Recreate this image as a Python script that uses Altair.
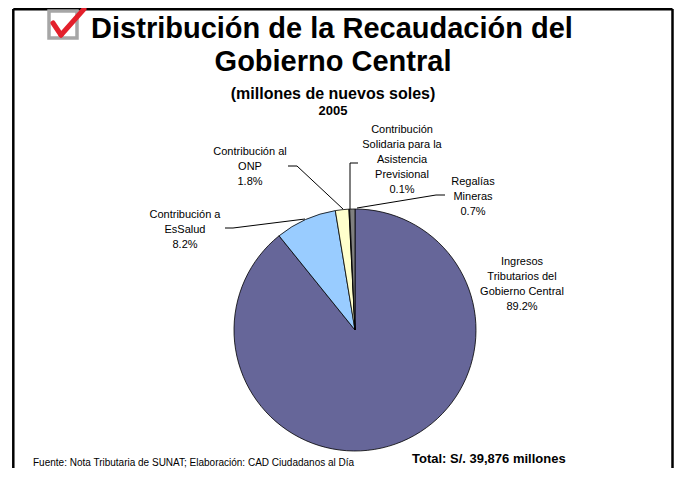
import altair as alt
import pandas as pd

# ---------------- data ----------------
categories = [
    "Ingresos Tributarios del Gobierno Central",
    "Contribución a EsSalud",
    "Contribución al ONP",
    "Contribución Solidaria para la Asistencia Previsional",
    "Regalías Mineras",
]
shares = [89.2, 8.2, 1.8, 0.1, 0.7]
label_texts = [
    "Ingresos\nTributarios del\nGobierno Central\n89.2%",
    "Contribución a\nEsSalud\n8.2%",
    "Contribución al\nONP\n1.8%",
    "Contribución\nSolidaria para la\nAsistencia\nPrevisional\n0.1%",
    "Regalías\nMineras\n0.7%",
]
title_lines = ["Distribución de la Recaudación del", "Gobierno Central"]
subtitle = "(millones de nuevos soles)"
year = "2005"
total_text = "Total: S/. 39,876 millones"
source_text = "Fuente: Nota Tributaria de SUNAT; Elaboración: CAD Ciudadanos al Día"

# ---------------- styles / layout ----------------
slice_colors = ["#666699", "#99CCFF", "#FFFFCC", "#333333", "#808080"]
W, H = 666, 460
OFF = 8  # page margin -> chart coords
CX, CY, R = 355 - OFF, 330 - OFF, 121
FONT = "Liberation Sans"

# label anchor (center x, top y) in page pixels
label_pos = [(522, 256), (185, 209), (250, 146), (402, 124), (473, 176)]
# leader line segments in page pixels
leader_segments = [
    (288, 166, 297, 166), (297, 166, 343, 209),   # ONP
    (358, 163, 350, 163), (350, 163, 350, 209),   # CSAP
    (445, 195, 436, 195), (436, 195, 357, 208),   # Regalías
    (225, 228, 233, 228), (233, 228, 305, 219),   # EsSalud
]

df = pd.DataFrame({"cat": categories, "share": shares, "idx": range(len(categories))})

pie = alt.Chart(df).mark_arc(outerRadius=R, stroke="black", strokeWidth=0.8).encode(
    theta=alt.Theta("share:Q", stack=True),
    order=alt.Order("idx:Q"),
    color=alt.Color("cat:N", scale=alt.Scale(domain=categories, range=slice_colors), legend=None),
    x=alt.value(CX),
    y=alt.value(CY),
)

lab_df = pd.DataFrame({
    "text": label_texts,
    "x": [p[0] - OFF for p in label_pos],
    "y": [p[1] - OFF for p in label_pos],
})
labels = alt.Chart(lab_df).mark_text(
    font=FONT, fontSize=11, align="center", baseline="top", lineBreak="\n", lineHeight=15, color="black"
).encode(
    x=alt.X("x:Q", scale=None), y=alt.Y("y:Q", scale=None), text="text:N"
)

seg_df = pd.DataFrame(leader_segments, columns=["x", "y", "x2", "y2"]) - OFF
leaders = alt.Chart(seg_df).mark_rule(color="black", strokeWidth=1).encode(
    x=alt.X("x:Q", scale=None), y=alt.Y("y:Q", scale=None),
    x2="x2:Q", y2="y2:Q",
)

def txt(s, x, y, size, bold=True, align="center"):
    return alt.Chart(pd.DataFrame({"t": [s]})).mark_text(
        font=FONT, fontSize=size, fontWeight="bold" if bold else "normal",
        align=align, baseline="alphabetic", color="black"
    ).encode(x=alt.value(x - OFF), y=alt.value(y - OFF), text="t:N")

titles = (
    txt(title_lines[0], 332, 38, 29)
    + txt(title_lines[1], 333, 71, 29)
    + txt(subtitle, 333, 99, 16)
    + txt(year, 333, 115, 13)
    + txt(total_text, 412, 463, 13, align="left")
    + txt(source_text, 33, 466, 10, bold=False, align="left")
)

# frame (left, top, right)
one = pd.DataFrame({"a": [0]})
RIGHT = 672.5
frame = (
    alt.Chart(one).mark_rule(color="black", strokeWidth=2.5).encode(
        x=alt.value(13.3 - OFF), x2=alt.value(13.3 - OFF), y=alt.value(1), y2=alt.value(H))
    + alt.Chart(one).mark_rule(color="black", strokeWidth=2.5).encode(
        x=alt.value(13.3 - OFF), x2=alt.value(RIGHT - OFF), y=alt.value(1.2), y2=alt.value(1.2))
    + alt.Chart(one).mark_rule(color="black", strokeWidth=2.5).encode(
        x=alt.value(RIGHT - OFF), x2=alt.value(RIGHT - OFF), y=alt.value(1), y2=alt.value(H))
)

# check-box icon
icon = (
    alt.Chart(one).mark_rect(fill="white", stroke="#A6A6A6", strokeWidth=3.5).encode(
        x=alt.value(49 - OFF), x2=alt.value(77 - OFF), y=alt.value(11 - OFF), y2=alt.value(38 - OFF))
    + alt.Chart(one).mark_rule(color="#E3202B", strokeWidth=5, strokeCap="round").encode(
        x=alt.value(53 - OFF), y=alt.value(23 - OFF), x2=alt.value(61 - OFF), y2=alt.value(35 - OFF))
    + alt.Chart(one).mark_rule(color="#E3202B", strokeWidth=5, strokeCap="round").encode(
        x=alt.value(61 - OFF), y=alt.value(35 - OFF), x2=alt.value(84 - OFF), y2=alt.value(9 - OFF))
)

chart = alt.layer(frame, icon, pie, leaders, labels, titles).properties(
    width=W, height=H, padding=0, autosize=alt.AutoSizeParams(type="none"), background="white"
).configure_view(stroke=None)

chart.save("out.html", embed_options={"renderer": "svg", "actions": False})
